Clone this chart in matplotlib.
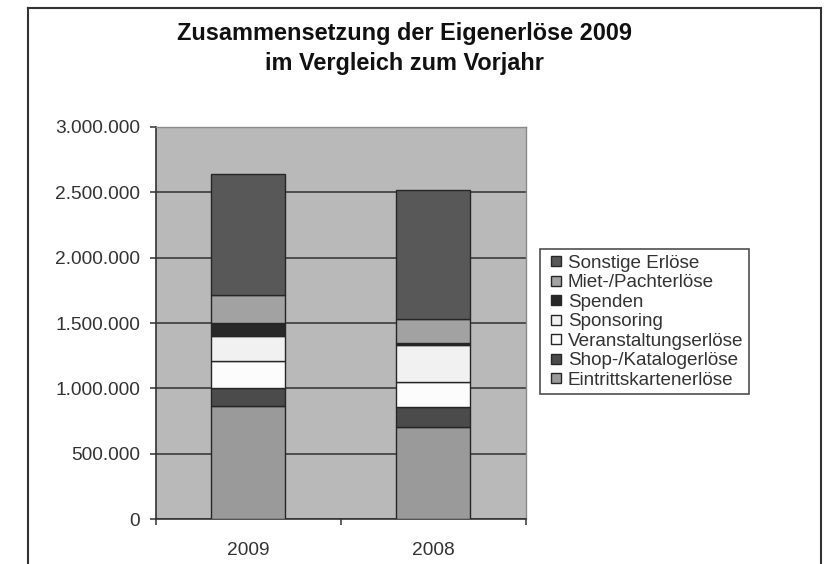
import matplotlib
matplotlib.use("Agg")
import matplotlib.pyplot as plt
import numpy as np
from matplotlib.lines import Line2D
from matplotlib.ticker import FuncFormatter

plt.rcParams["font.family"] = ["Liberation Sans", "DejaVu Sans"]

# --- data ---
years = ["2009", "2008"]
series = [
    "Eintrittskartenerlöse",
    "Shop-/Katalogerlöse",
    "Veranstaltungserlöse",
    "Sponsoring",
    "Spenden",
    "Miet-/Pachterlöse",
    "Sonstige Erlöse",
]
eintritt = [863000, 703000]
shop = [143000, 152000]
veranstaltung = [206000, 196000]
sponsoring = [188000, 278000]
spenden = [97000, 15000]
miete = [214000, 189000]
sonstige = [929000, 982000]
values = [eintritt, shop, veranstaltung, sponsoring, spenden, miete, sonstige]

colors = ["#9a9a9a", "#4b4b4b", "#fcfcfc", "#f1f1f1", "#282828", "#a2a2a2", "#585858"]
yticks = [0, 500000, 1000000, 1500000, 2000000, 2500000, 3000000]
title_lines = ["Zusammensetzung der Eigenerlöse 2009", "im Vergleich zum Vorjahr"]

TEXT_COL = "#333333"
EDGE_COL = "#262626"
FS = 13.8

fig = plt.figure(figsize=(8.24, 5.64), dpi=100)
fig.patch.set_facecolor("white")

# outer frame of the chart object (bottom edge lies outside the picture)
frame_kw = dict(transform=fig.transFigure, color="#333333", linewidth=1.5)
fig.add_artist(Line2D([28 / 824, 28 / 824], [0, 1 - 8 / 564], **frame_kw))
fig.add_artist(Line2D([28 / 824, 821 / 824], [1 - 8 / 564, 1 - 8 / 564], **frame_kw))
fig.add_artist(Line2D([821 / 824, 821 / 824], [0, 1 - 8 / 564], **frame_kw))

ax = fig.add_axes([156 / 824, 45 / 564, 369.7 / 824, 392 / 564])
ax.set_facecolor("#b9b9b9")

x = np.arange(len(years))
bottom = np.zeros(len(years))
for name, vals, col in zip(series, values, colors):
    ax.bar(x, vals, width=0.4, bottom=bottom, color=col, edgecolor=EDGE_COL,
           linewidth=1.0, label=name, zorder=3)
    bottom += np.array(vals)

ax.set_xlim(-0.5, len(years) - 0.5)
ax.set_ylim(0, 3000000)
ax.set_yticks(yticks)
ax.yaxis.set_major_formatter(FuncFormatter(lambda v, _: f"{int(v):,}".replace(",", ".")))
ax.grid(axis="y", color="#303030", linewidth=1.1, zorder=1)
ax.set_axisbelow(True)

ax.set_xticks(x)
ax.set_xticklabels(years)
ax.set_xticks(np.arange(-0.5, len(years)), minor=True)
ax.tick_params(axis="x", which="major", length=0, pad=16.5, labelsize=FS, labelcolor=TEXT_COL)
ax.tick_params(axis="x", which="minor", length=4.5, width=1.1, color="#333333")
ax.tick_params(axis="y", length=4.5, width=1.1, color="#333333", pad=7,
               labelsize=FS, labelcolor=TEXT_COL)

for side in ("left", "bottom"):
    ax.spines[side].set_color("#333333")
    ax.spines[side].set_linewidth(1.2)
for side in ("top", "right"):
    ax.spines[side].set_color("#8a8a8a")
    ax.spines[side].set_linewidth(1.0)

for i, line in enumerate(title_lines):
    fig.text(404.5 / 824, 1 - (40 + 30 * i) / 564, line, ha="center", va="baseline",
             fontsize=16.9, fontweight="bold", color="#111111")

handles = [Line2D([], [], linestyle="None", marker="s", markersize=7.2,
                  markerfacecolor=c, markeredgecolor=EDGE_COL, markeredgewidth=1.0)
           for c in colors]
leg = fig.legend(handles[::-1], series[::-1], loc="upper left",
                 bbox_to_anchor=(540 / 824, 1 - 249 / 564), fontsize=13.6,
                 frameon=True, fancybox=False, edgecolor="#222222",
                 handlelength=1.1, handletextpad=0.08,
                 labelspacing=0.12, borderpad=0.3, borderaxespad=0)
leg.get_frame().set_linewidth(1.2)
for t in leg.get_texts():
    t.set_color(TEXT_COL)

fig.savefig("out.png", dpi=100)
